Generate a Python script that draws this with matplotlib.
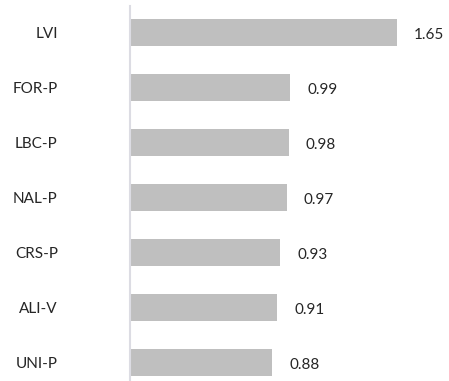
import matplotlib
matplotlib.use('Agg')
import matplotlib.pyplot as plt

categories = ['LVI', 'FOR-P', 'LBC-P', 'NAL-P', 'CRS-P', 'ALI-V', 'UNI-P']
values = [1.65, 0.99, 0.98, 0.97, 0.93, 0.91, 0.88]

plt.rcParams['font.family'] = ['Lato', 'DejaVu Sans']

W, H = 449, 381
fig = plt.figure(figsize=(W/100, H/100), dpi=100)
ax = fig.add_axes([130/W, 1/H, (W-130)/W, 374/H])

ypos = list(range(len(categories)))
ax.barh(ypos, values, height=0.49, color='#bfbfbf', left=0)

px_per_unit = 161.8
ax.set_xlim(0, (W-130)/px_per_unit)
ax.set_ylim(6.31, -0.49)

for y, v in zip(ypos, values):
    ax.annotate('%.2f' % v, (v, y), xytext=(17*0.72, -2*0.72), textcoords='offset points',
                ha='left', va='center', fontsize=11, color='#262626')

ax.set_yticks(ypos)
ax.set_yticklabels(categories, fontsize=11, color='#262626')
ax.tick_params(axis='y', length=0, pad=52)
ax.set_xticks([])

for s in ['top', 'right', 'bottom']:
    ax.spines[s].set_visible(False)
ax.spines['left'].set_color('#dcdce3')
ax.spines['left'].set_linewidth(1.5)

fig.savefig('out.png', dpi=100)
